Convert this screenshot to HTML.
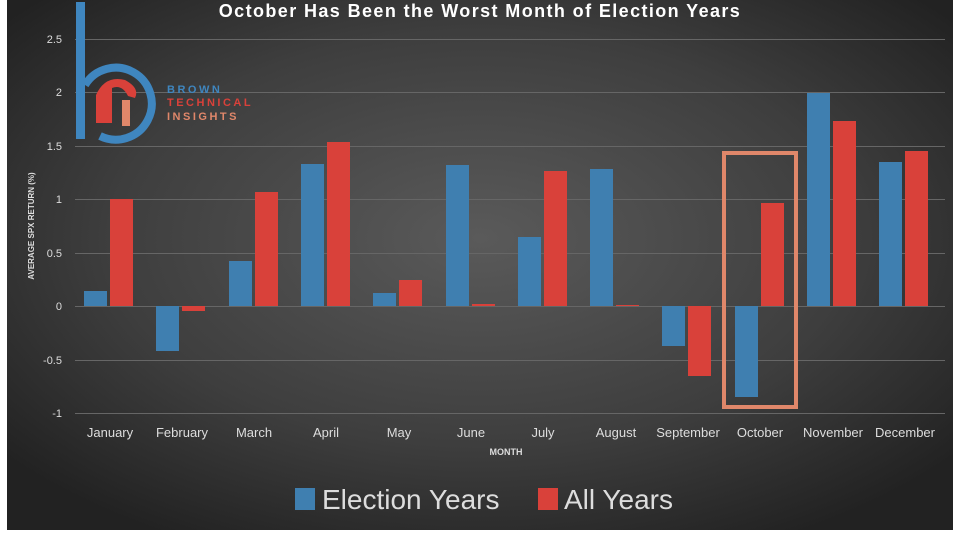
<!DOCTYPE html>
<html><head><meta charset="utf-8"><style>
body{margin:0;background:#fff;width:960px;height:540px;overflow:hidden}
</style></head><body>
<svg width="960" height="540" xmlns="http://www.w3.org/2000/svg" font-family="Liberation Sans, sans-serif">
<defs>
<radialGradient id="bg" cx="50%" cy="45%" r="65%">
<stop offset="0" stop-color="#5a5a5a"/><stop offset="0.6" stop-color="#3e3e3e"/><stop offset="1" stop-color="#222"/>
</radialGradient>
</defs>
<rect x="7" y="0" width="946" height="530" fill="url(#bg)"/>
<text x="480" y="17" text-anchor="middle" fill="#fff" font-size="18" font-weight="bold" letter-spacing="1.4">October  Has  Been  the  Worst  Month  of  Election  Years</text>
<g stroke="#666" stroke-width="1">
<line x1="75" x2="945" y1="39.5" y2="39.5"/><line x1="75" x2="945" y1="92.5" y2="92.5"/>
<line x1="75" x2="945" y1="146.5" y2="146.5"/><line x1="75" x2="945" y1="199.5" y2="199.5"/>
<line x1="75" x2="945" y1="253.5" y2="253.5"/><line x1="75" x2="945" y1="306.5" y2="306.5"/>
<line x1="75" x2="945" y1="360.5" y2="360.5"/><line x1="75" x2="945" y1="413.5" y2="413.5"/>
</g>
<g fill="#ddd" font-size="11" text-anchor="end">
<text x="62" y="43">2.5</text><text x="62" y="96">2</text><text x="62" y="150">1.5</text>
<text x="62" y="203">1</text><text x="62" y="257">0.5</text><text x="62" y="310">0</text>
<text x="62" y="364">-0.5</text><text x="62" y="417">-1</text>
</g>
<text transform="translate(34,226) rotate(-90)" text-anchor="middle" fill="#ddd" font-size="8" font-weight="bold">AVERAGE SPX RETURN (%)</text>
<g fill="#3f7fb0">
<rect x="84" y="291" width="23" height="15"/>
<rect x="156" y="306" width="23" height="45"/>
<rect x="229" y="261" width="23" height="45"/>
<rect x="301" y="164" width="23" height="142"/>
<rect x="373" y="293" width="23" height="13"/>
<rect x="446" y="165" width="23" height="141"/>
<rect x="518" y="237" width="23" height="69"/>
<rect x="590" y="169" width="23" height="137"/>
<rect x="662" y="306" width="23" height="40"/>
<rect x="735" y="306" width="23" height="91"/>
<rect x="807" y="93" width="23" height="213"/>
<rect x="879" y="162" width="23" height="144"/>
</g>
<g fill="#d9413a">
<rect x="110" y="199" width="23" height="107"/>
<rect x="182" y="306" width="23" height="5"/>
<rect x="255" y="192" width="23" height="114"/>
<rect x="327" y="142" width="23" height="164"/>
<rect x="399" y="280" width="23" height="26"/>
<rect x="472" y="304" width="23" height="2"/>
<rect x="544" y="171" width="23" height="135"/>
<rect x="616" y="305" width="23" height="1"/>
<rect x="688" y="306" width="23" height="70"/>
<rect x="761" y="203" width="23" height="103"/>
<rect x="833" y="121" width="23" height="185"/>
<rect x="905" y="151" width="23" height="155"/>
</g>
<rect x="724" y="153" width="72" height="254" fill="none" stroke="#e0876a" stroke-width="4"/>
<g fill="#ddd" font-size="13" text-anchor="middle">
<text x="110" y="437">January</text><text x="182" y="437">February</text><text x="254" y="437">March</text>
<text x="326" y="437">April</text><text x="399" y="437">May</text><text x="471" y="437">June</text>
<text x="543" y="437">July</text><text x="616" y="437">August</text><text x="688" y="437">September</text>
<text x="760" y="437">October</text><text x="833" y="437">November</text><text x="905" y="437">December</text>
</g>
<text x="506" y="455" text-anchor="middle" fill="#ddd" font-size="9" font-weight="bold">MONTH</text>
<rect x="295" y="488" width="20" height="22" fill="#3f7fb0"/>
<text x="322" y="509" fill="#ddd" font-size="28">Election Years</text>
<rect x="538" y="488" width="20" height="22" fill="#d9413a"/>
<text x="564" y="509" fill="#ddd" font-size="28">All Years</text>
<rect x="76" y="2" width="9" height="137" fill="#3f86bf"/>
<path d="M85 85 A36 36 0 1 1 100 136" fill="none" stroke="#3f86bf" stroke-width="8"/>
<path d="M96 123 L96 95 Q105 75 125 80 Q140 88 135 98 L128 96 Q122 84 112 88 L112 123 Z" fill="#d9413a"/>
<rect x="122" y="100" width="8" height="26" fill="#e0876a"/>
<g font-size="11" font-weight="bold" letter-spacing="2.5">
<text x="167" y="93" fill="#3f86bf">BROWN</text>
<text x="167" y="106" fill="#d9413a">TECHNICAL</text>
<text x="167" y="120" fill="#e0876a">INSIGHTS</text>
</g>
</svg>
</body></html>
